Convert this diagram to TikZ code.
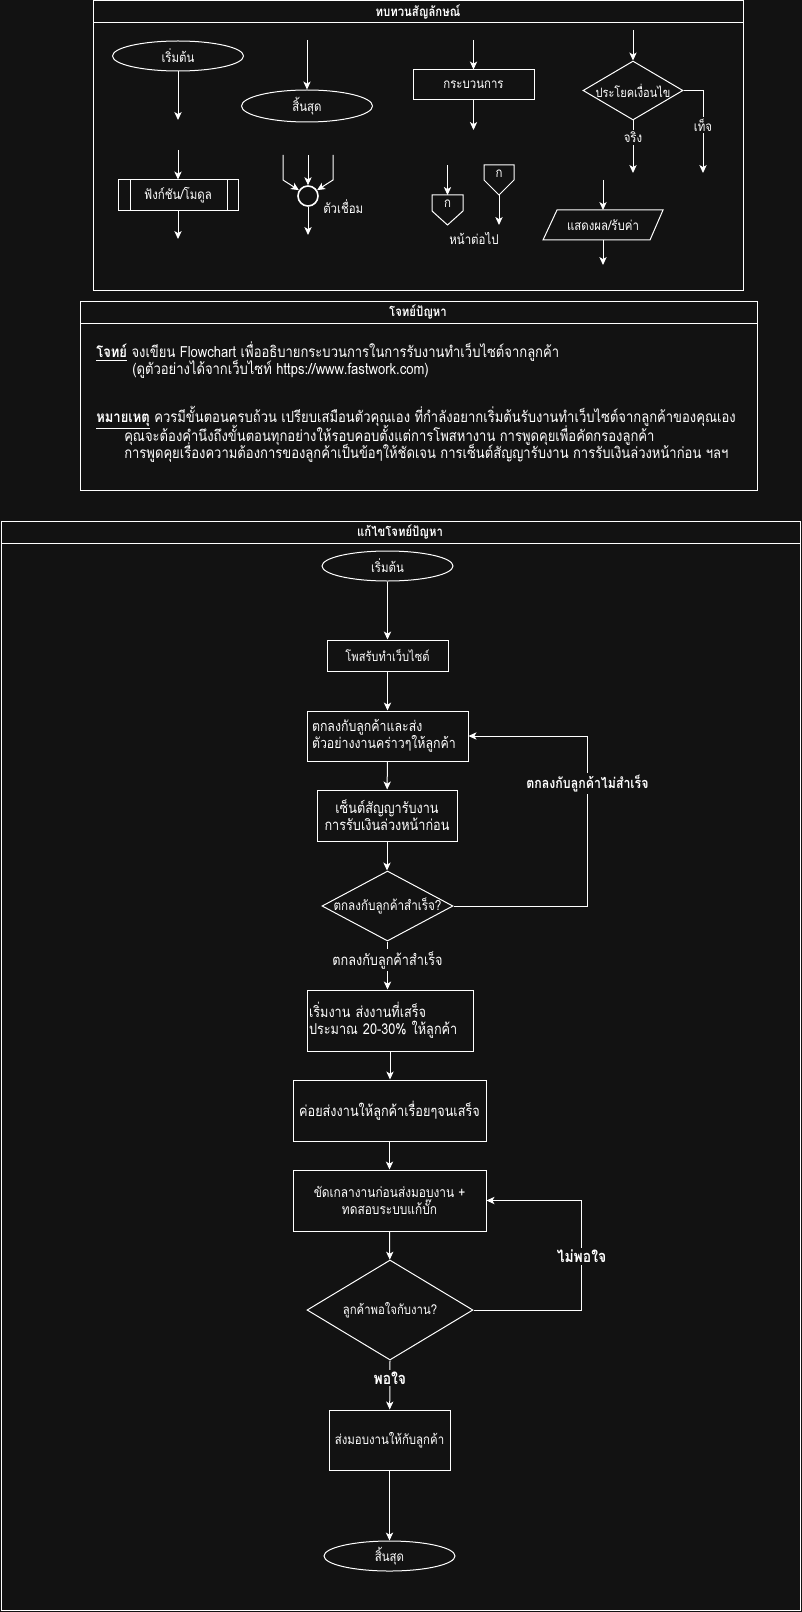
\documentclass[tikz,border=0pt]{standalone}
\usepackage{fontspec}
\setmainfont{Loma}[Script=Thai, FakeStretch=0.85]
\usetikzlibrary{shapes.geometric,arrows.meta}
\definecolor{bg}{HTML}{121212}
\newcommand\fz[1]{\fontsize{#1}{12.75pt}\selectfont}
\tikzset{
  ln/.style={draw=white, line width=0.75pt},
  arr/.style={ln, -{Stealth[length=6pt,width=5.5pt,inset=1.6pt]}},
  frame/.style={draw=white, line width=0.75pt},
  box/.style={draw=white, line width=0.75pt, fill=bg, text=white, inner sep=0pt, align=center, font=\fz{11.2}},
  ell/.style={ellipse, draw=white, line width=0.75pt, fill=bg, text=white, inner sep=0pt, minimum width=131*0.75pt, minimum height=30*0.75pt, font=\fz{10.1}},
  dia/.style={diamond, draw=white, line width=0.75pt, fill=bg, inner sep=0pt},
  txt/.style={text=white, inner sep=0pt, font=\fz{10.1}},
  lab/.style={text=white, fill=bg, inner sep=1.5pt, font=\fz{10.1}},
  flab/.style={text=white, fill=bg, inner sep=1.5pt, font=\fz{11.2}},
  blab/.style={text=white, fill=bg, inner sep=1.5pt, font=\fz{12.3}\bfseries},
  ttl/.style={text=white, inner sep=0pt, font=\fz{10}\bfseries},
  para/.style={text=white, inner sep=0pt, anchor=west, font=\fz{11.5}},
}
\begin{document}
\begin{tikzpicture}[x=0.75pt,y=-0.75pt]
\useasboundingbox (0,0) rectangle (802,1612);
\fill[bg] (0,0) rectangle (802,1612);

% ---------- top: symbols ----------
\draw[frame] (93.5,1) rectangle (743,290);
\draw[frame] (93.5,23) -- (743,23);
\node[ttl] (t0) at (418,12) {ทบทวนสัญลักษณ์};

% start
\node[ell] (ts) at (178,56) {เริ่มต้น};
\coordinate (ts1) at (178,120);
\draw[arr] (ts) -- (ts1);
% end
\coordinate (te0) at (307,40);
\node[ell, minimum height=32*0.75pt] (te) at (307,106) {สิ้นสุด};
\draw[arr] (te0) -- (te);
% function
\coordinate (tf0) at (178,150);
\node[box, font=\fz{10.1}, minimum width=120*0.75pt, minimum height=31*0.75pt] (tf) at (178,195.5) {ฟังก์ชัน/โมดูล};
\draw[ln] ([xshift=13*0.75pt]tf.north west) -- ([xshift=13*0.75pt]tf.south west);
\draw[ln] ([xshift=-11*0.75pt]tf.north east) -- ([xshift=-11*0.75pt]tf.south east);
\coordinate (tf1) at (178,239);
\draw[arr] (tf0) -- (tf);
\draw[arr] (tf) -- (tf1);
% connector
\node[circle, draw=white, line width=1.2pt, minimum size=20*0.75pt, inner sep=0pt] (tc) at (308,196) {};
\coordinate (tcA) at (283,155);
\coordinate (tcB) at (308,155);
\coordinate (tcC) at (333,155);
\coordinate (tcD) at (308,235);
\draw[arr] (tcA) -- ++(0,25) -- (tc);
\draw[arr] (tcB) -- (tc);
\draw[arr] (tcC) -- ++(0,25) -- (tc);
\draw[arr] (tc) -- (tcD);
\node[txt, anchor=west] (tcl) at (323,207) {ตัวเชื่อม};
% process
\coordinate (tp0) at (473.5,40);
\node[box, font=\fz{10.1}, minimum width=121*0.75pt, minimum height=30*0.75pt] (tp) at (473.5,85) {กระบวนการ};
\coordinate (tp1) at (473.5,130);
\draw[arr] (tp0) -- (tp);
\draw[arr] (tp) -- (tp1);
% off-page connectors
\draw[ln, fill=bg] (432,195) -- (463,195) -- (463,211) -- (447.5,225) -- (432,211) -- cycle;
\node[txt] (oa) at (447.5,204) {ก};
\coordinate (oaT) at (447.5,195);
\coordinate (oa0) at (447.5,165);
\draw[arr] (oa0) -- (oaT);
\draw[ln, fill=bg] (484,165) -- (514,165) -- (514,180) -- (499,195) -- (484,180) -- cycle;
\node[txt] (ob) at (499,174) {ก};
\coordinate (obB) at (499,195);
\coordinate (ob1) at (499,225);
\draw[arr] (obB) -- (ob1);
\node[txt] (nx) at (474,238) {หน้าต่อไป};
% decision
\coordinate (td0) at (633,30);
\node[dia, minimum width=100*0.75pt, minimum height=59*0.75pt] (td) at (633,90.5) {};
\node[txt, font=\fz{9.7}] (tdt) at (td) {ประโยคเงื่อนไข};
\coordinate (tdT) at (633,173);
\coordinate (tdF) at (703,173);
\draw[arr] (td0) -- (td);
\draw[arr] (td.south) -- (tdT) node[lab, pos=0.32] {จริง};
\draw[arr] (td.east) -- (703,90.5) -- (tdF) node[lab, pos=0.42] {เท็จ};
% input/output
\coordinate (tio0) at (603,180);
\draw[ln, fill=bg] (557,210) -- (663,210) -- (650,240) -- (543,240) -- cycle;
\node[txt] (tio) at (603,225) {แสดงผล/รับค่า};
\coordinate (tioT) at (603,210);
\coordinate (tioB) at (603,240);
\coordinate (tio1) at (603,265);
\draw[arr] (tio0) -- (tioT);
\draw[arr] (tioB) -- (tio1);

% ---------- problem ----------
\draw[frame] (80.5,301) rectangle (757,490);
\draw[frame] (80.5,323) -- (757,323);
\node[ttl] (p0) at (418,312) {โจทย์ปัญหา};
\node[para] (p1) at (96,352) {\underline{\textbf{โจทย์}} จงเขียน Flowchart เพื่ออธิบายกระบวนการในการรับงานทำเว็บไซต์จากลูกค้า};
\node[para] (p2) at (132,369) {(ดูตัวอย่างได้จากเว็บไซท์ https://www.fastwork.com)};
\node[para] (p3) at (96,418) {\underline{\textbf{หมายเหตุ}} ควรมีขั้นตอนครบถ้วน เปรียบเสมือนตัวคุณเอง ที่กำลังอยากเริ่มต้นรับงานทำเว็บไซต์จากลูกค้าของคุณเอง};
\node[para] (p4) at (124,435) {คุณจะต้องคำนึงถึงขั้นตอนทุกอย่างให้รอบคอบตั้งแต่การโพสหางาน การพูดคุยเพื่อคัดกรองลูกค้า};
\node[para] (p5) at (124,453) {การพูดคุยเรื่องความต้องการของลูกค้าเป็นข้อๆให้ชัดเจน การเซ็นต์สัญญารับงาน การรับเงินล่วงหน้าก่อน ฯลฯ};

% ---------- solution ----------
\draw[frame] (1,521) rectangle (800.5,1610.5);
\draw[frame] (1,543) -- (800.5,543);
\node[ttl] (q0) at (400,532) {แก้ไขโจทย์ปัญหา};

\node[ell] (s) at (387.5,566) {เริ่มต้น};
\node[box, font=\fz{9.8}, minimum width=121*0.75pt, minimum height=31*0.75pt] (b1) at (387.5,655.5) {โพสรับทำเว็บไซต์};
\node[box, font=\fz{10.9}, minimum height=50*0.75pt, align=left, text width=151*0.75pt, inner xsep=5*0.75pt] (b2) at (387.5,736) {ตกลงกับลูกค้าและส่ง\\ตัวอย่างงานคร่าวๆให้ลูกค้า};
\node[box, minimum width=140*0.75pt, minimum height=51*0.75pt] (b3) at (387,815.5) {เซ็นต์สัญญารับงาน\\การรับเงินล่วงหน้าก่อน};
\node[dia, minimum width=131*0.75pt, minimum height=70*0.75pt] (d1) at (387.5,906) {};
\node[txt, font=\fz{10.3}] (d1t) at (d1) {ตกลงกับลูกค้าสำเร็จ?};
\node[box, minimum height=61*0.75pt, align=left, text width=162*0.75pt, inner xsep=2*0.75pt] (b4) at (390,1020.5) {เริ่มงาน ส่งงานที่เสร็จ\\ประมาณ 20-30\% ให้ลูกค้า};
\node[box, minimum width=193*0.75pt, minimum height=61*0.75pt] (b5) at (389.5,1110.5) {ค่อยส่งงานให้ลูกค้าเรื่อยๆจนเสร็จ};
\node[box, font=\fz{10.5}, minimum width=193*0.75pt, minimum height=61*0.75pt] (b6) at (389.5,1200.5) {ขัดเกลางานก่อนส่งมอบงาน +\\ทดสอบระบบแก้บั๊ก};
\node[dia, minimum width=166*0.75pt, minimum height=100*0.75pt] (d2) at (390,1310) {};
\node[txt, font=\fz{10}] (d2t) at (d2) {ลูกค้าพอใจกับงาน?};
\node[box, font=\fz{10.1}, minimum width=121*0.75pt, minimum height=60*0.75pt] (b7) at (389.5,1440) {ส่งมอบงานให้กับลูกค้า};
\node[ell] (e) at (389.5,1556) {สิ้นสุด};

\draw[arr] (s) -- (b1);
\draw[arr] (b1) -- (b2);
\draw[arr] (b2) -- (b3);
\draw[arr] (b3.south) -- (b3.south |- d1.north);
\draw[arr] (d1.east) -- ++(134,0) |- (b2.east) node[flab, font=\fz{10.9}\bfseries, pos=0.36] {ตกลงกับลูกค้าไม่สำเร็จ};
\draw[arr] (d1.south) -- (d1.south |- b4.north) node[lab, font=\fz{11.2}, pos=0.39] {ตกลงกับลูกค้าสำเร็จ};
\draw[arr] (b4.south) -- (b4.south |- b5.north);
\draw[arr] (b5) -- (b6);
\draw[arr] (b6) -- (d2);
\draw[arr] (d2.east) -- ++(108,0) |- (b6.east) node[blab, pos=0.245] {ไม่พอใจ};
\draw[arr] (d2.south) -- (b7) node[blab, pos=0.36] {พอใจ};
\draw[arr] (b7) -- (e);
\end{tikzpicture}
\end{document}
